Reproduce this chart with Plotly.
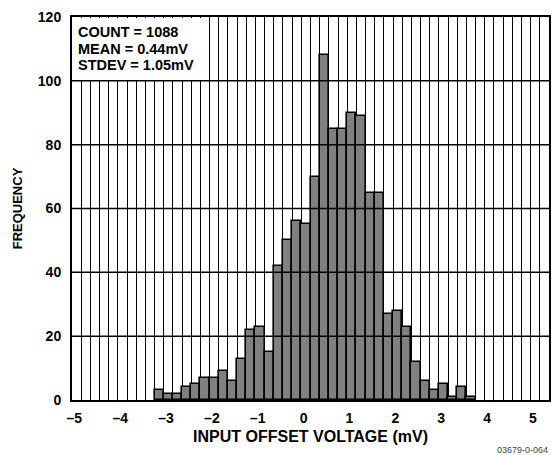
import plotly.graph_objects as go

# histogram bins (mV, bin centres, 0.2 mV wide) and counts
bin_centers = [-3.15, -2.95, -2.75, -2.55, -2.35, -2.15, -1.95, -1.75, -1.55, -1.35,
               -1.15, -0.95, -0.75, -0.55, -0.35, -0.15, 0.05, 0.25, 0.45, 0.65,
               0.85, 1.05, 1.25, 1.45, 1.65, 1.85, 2.05, 2.25, 2.45, 2.65,
               2.85, 3.05, 3.25, 3.45, 3.65]
counts = [3, 2, 2, 4, 5, 7, 7, 9, 6, 13,
          22, 23, 15, 42, 50, 56, 55, 70, 108, 85,
          85, 90, 89, 65, 65, 27, 28, 23, 12, 6,
          3, 5, 1, 4, 1]

x_tick_vals = [-5, -4, -3, -2, -1, 0, 1, 2, 3, 4, 5]
x_tick_text = ["\u20135", "\u20134", "\u20133", "\u20132", "\u20131", "0", "1", "2", "3", "4", "5"]
y_tick_vals = [0, 20, 40, 60, 80, 100, 120]
x_range = [-5.05, 5.35]

stats_lines = ["COUNT = 1088", "MEAN = 0.44mV", "STDEV = 1.05mV"]

fig = go.Figure(
    go.Bar(
        x=bin_centers,
        y=counts,
        width=0.2,
        marker=dict(color="#808080", line=dict(color="black", width=1.6)),
    )
)

# horizontal grid drawn over the bars, like the datasheet plot
for yv in y_tick_vals[1:-1]:
    fig.add_shape(
        type="line", xref="paper", x0=0, x1=1, y0=yv, y1=yv,
        line=dict(color="black", width=1.5), layer="above",
    )

# white box behind the stats text (pixel sized, pinned to top-left corner)
fig.add_shape(
    type="rect", layer="above",
    xsizemode="pixel", xanchor=x_range[0], x0=1, x1=136,
    ysizemode="pixel", yanchor=y_tick_vals[-1], y0=-1, y1=-63,
    fillcolor="white", line=dict(width=0),
)
for i, line in enumerate(stats_lines):
    fig.add_annotation(
        text=line, xref="paper", yref="paper", x=0, y=1,
        xanchor="left", yanchor="middle", xshift=5, yshift=-15 - 16.5 * i,
        showarrow=False, borderpad=0,
        font=dict(size=14.5, color="black", weight="bold"),
    )

fig.add_annotation(
    text="03679-0-064", xref="paper", yref="paper", x=1, y=0,
    xanchor="right", yanchor="top", yshift=-43, xshift=1,
    showarrow=False, font=dict(size=9, color="#444", weight="normal"),
)

fig.update_layout(
    width=552,
    height=455,
    margin=dict(l=72, r=1, t=17, b=55),
    paper_bgcolor="white",
    plot_bgcolor="white",
    showlegend=False,
    bargap=0,
    font=dict(family="Liberation Sans, Arial, sans-serif", color="black", weight="bold"),
)

fig.update_xaxes(
    range=x_range,
    tickvals=x_tick_vals,
    ticktext=x_tick_text,
    ticks="",
    ticklabelstandoff=4,
    tickfont=dict(size=14),
    showgrid=False,
    zeroline=False,
    minor=dict(tick0=x_range[0], dtick=0.2, showgrid=True, gridcolor="black", gridwidth=1.3),
    showline=True, linecolor="black", linewidth=2, mirror=True,
    title=dict(text="INPUT OFFSET VOLTAGE (mV)", font=dict(size=16), standoff=6),
)

fig.update_yaxes(
    range=[0, 120],
    tickvals=y_tick_vals,
    ticks="",
    ticklabelstandoff=6,
    tickfont=dict(size=14),
    showgrid=False,
    zeroline=False,
    showline=True, linecolor="black", linewidth=2, mirror=True,
    title=dict(text="FREQUENCY", font=dict(size=13), standoff=12),
)

fig.write_html(
    "out.html",
    config={"displayModeBar": False},
    post_script="document.body.style.margin='0';",
)
